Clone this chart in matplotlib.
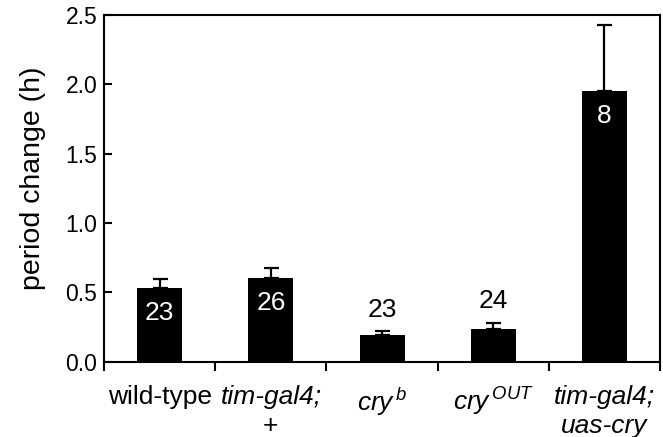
import numpy as np
import matplotlib
matplotlib.use("Agg")
from matplotlib import pyplot as plt

plt.rcParams['font.family'] = ['Liberation Sans', 'DejaVu Sans']
plt.rcParams['mathtext.fontset'] = 'custom'
plt.rcParams['mathtext.rm'] = 'Liberation Sans'
plt.rcParams['mathtext.it'] = 'Liberation Sans:italic'

# data
genotypes = ["wild-type", "tim-gal4;\n+", "cry b", "cry OUT", "tim-gal4;\nuas-cry"]
period_change = [0.53, 0.605, 0.192, 0.236, 1.953]
sem = [0.068, 0.072, 0.027, 0.044, 0.475]
n_flies = [23, 26, 23, 24, 8]

# tick label text (line1, line2)
line1 = ["wild-type", "tim-gal4;", r"$\mathit{cry}^{\,b}$", r"$\mathit{cry}^{\,OUT}$", "tim-gal4;"]
line1_italic = [False, True, False, False, True]
line2 = ["", "+", "", "", "uas-cry"]
line2_italic = [False, False, False, False, True]

fig = plt.figure(figsize=(6.63, 4.37), dpi=100)
ax = fig.add_axes([0.157, 0.172, 0.8385, 0.7935])

x = np.arange(len(period_change)) + 0.5
ax.bar(x, period_change, width=0.405, color="black", zorder=2)
ax.errorbar(x, period_change, yerr=[np.zeros(len(sem)), sem], fmt="none",
            ecolor="black", elinewidth=1.6, capsize=5.4, capthick=1.6, zorder=1)

# sample sizes
for xi, v, e, n in zip(x, period_change, sem, n_flies):
    if v > 0.4:
        ax.text(xi, v - 0.18, str(n), ha="center", va="center", color="white", fontsize=19)
    else:
        ax.text(xi, v + e + 0.155, str(n), ha="center", va="center", color="black", fontsize=19)

ax.set_xlim(0, len(period_change))
ax.set_ylim(0, 2.5)
ax.set_yticks([0, 0.5, 1.0, 1.5, 2.0, 2.5])
ax.set_yticklabels(["0.0", "0.5", "1.0", "1.5", "2.0", "2.5"])
ax.set_xticks(np.arange(len(period_change) + 1))
ax.set_xticklabels([])
ax.tick_params(axis="y", direction="in", length=6, width=1.5, labelsize=16.5, pad=5)
ax.tick_params(axis="x", direction="out", length=6.5, width=1.5)
for s in ax.spines.values():
    s.set_linewidth(1.5)

ax.set_ylabel("period change (h)", fontsize=20.5)
ax.yaxis.set_label_coords(-0.105, 0.53)

tr = ax.get_xaxis_transform()
for i in range(len(x)):
    ax.text(x[i], -0.068, line1[i], transform=tr, ha="center", va="top", fontsize=19,
            style="italic" if line1_italic[i] else "normal")
    if line2[i]:
        ax.text(x[i], -0.15, line2[i], transform=tr, ha="center", va="top", fontsize=19,
                style="italic" if line2_italic[i] else "normal")

plt.savefig("out.png", dpi=100)
